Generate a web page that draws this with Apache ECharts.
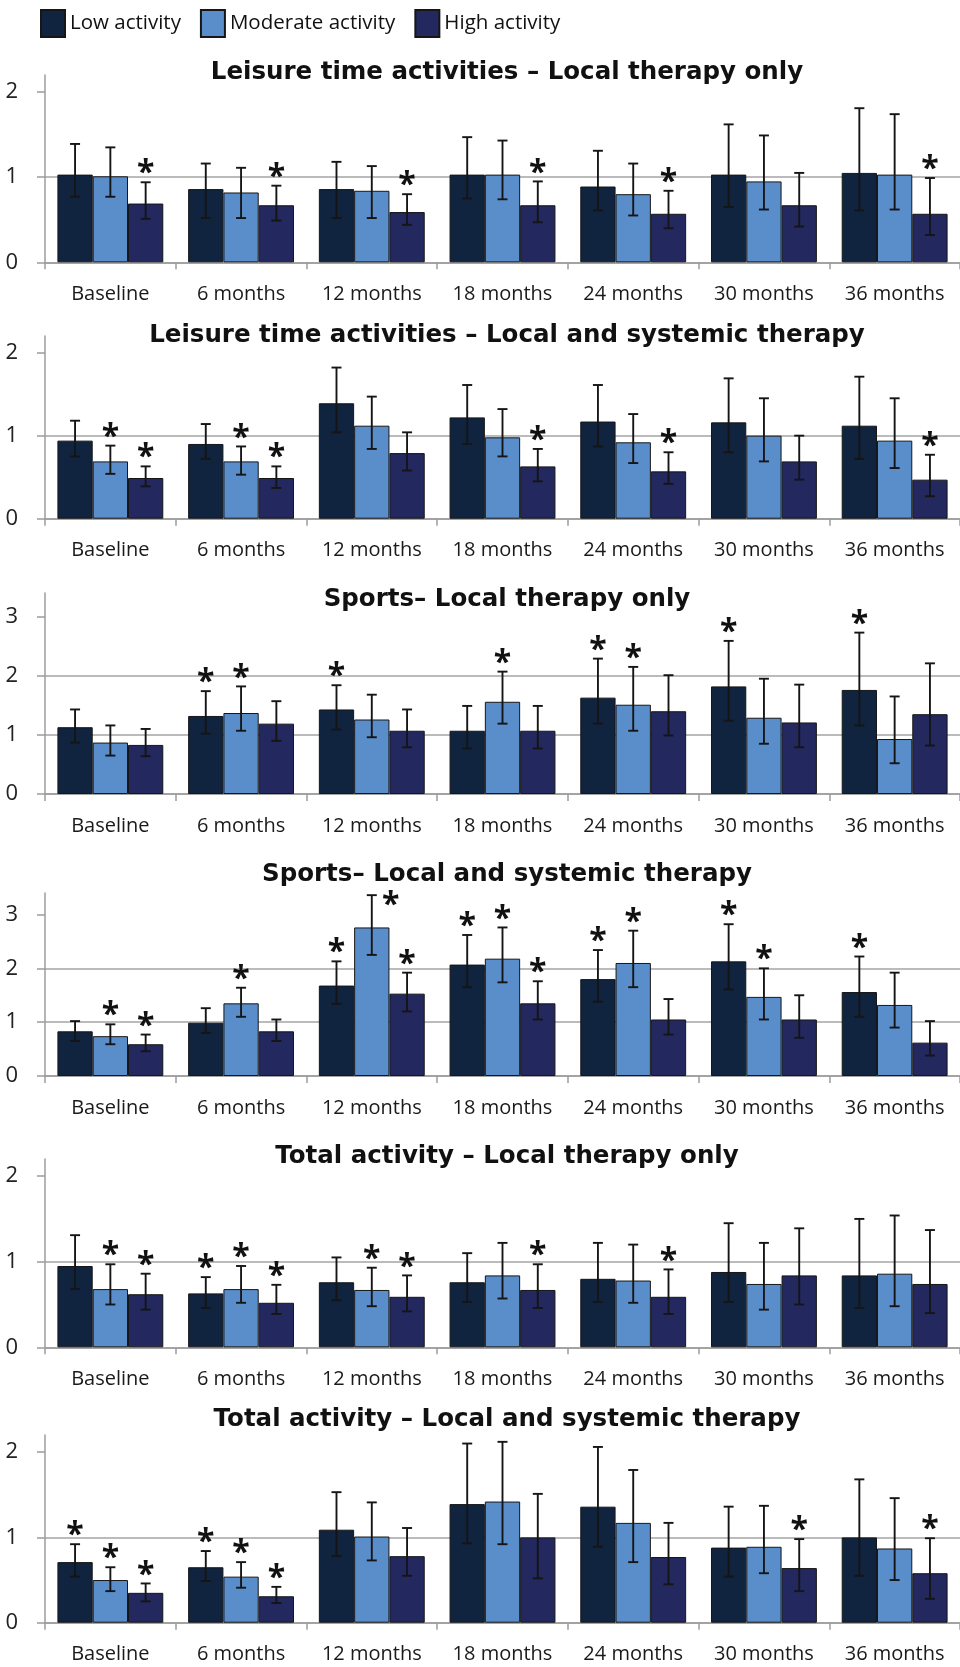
<!DOCTYPE html>
<html>
<head>
<meta charset="utf-8">
<title>Physical activity by therapy group</title>
<script src="https://cdn.jsdelivr.net/npm/echarts@6/dist/echarts.min.js"></script>
<style>
  html, body { margin: 0; padding: 0; background: #ffffff; }
  #chart { width: 960px; height: 1667px; }
</style>
</head>
<body>
<div id="chart"></div>
<script>
// ---- Shared labels ----
const categories = ['Baseline', '6 months', '12 months', '18 months', '24 months', '30 months', '36 months'];
const groupNames = ['Low activity', 'Moderate activity', 'High activity'];
const panelTitles = [
  'Leisure time activities \u2013 Local therapy only',
  'Leisure time activities \u2013 Local and systemic therapy',
  'Sports\u2013 Local therapy only',
  'Sports\u2013 Local and systemic therapy',
  'Total activity \u2013 Local therapy only',
  'Total activity \u2013 Local and systemic therapy'
];
const yTicksTwo = [0, 1, 2];
const yTicksThree = [0, 1, 2, 3];

// ---- Leisure time activities, local therapy only ----
// rows: low, moderate, high activity; columns follow `categories`
const leisureLocalMean  = [[1.03, 0.86, 0.86, 1.03, 0.89, 1.03, 1.05], [1.01, 0.82, 0.84, 1.03, 0.80, 0.95, 1.03], [0.69, 0.67, 0.59, 0.67, 0.57, 0.67, 0.57]];
const leisureLocalLower = [[0.77, 0.52, 0.52, 0.75, 0.61, 0.65, 0.61], [0.77, 0.52, 0.52, 0.74, 0.55, 0.62, 0.62], [0.51, 0.49, 0.44, 0.47, 0.40, 0.42, 0.32]];
const leisureLocalUpper = [[1.39, 1.16, 1.18, 1.47, 1.31, 1.62, 1.81], [1.35, 1.11, 1.13, 1.43, 1.16, 1.49, 1.74], [0.94, 0.90, 0.80, 0.95, 0.84, 1.05, 0.99]];
const leisureLocalSig   = [[0, 0, 0, 0, 0, 0, 0], [0, 0, 0, 0, 0, 0, 0], [1, 1, 1, 1, 1, 0, 1]];

// ---- Leisure time activities, local and systemic therapy ----
const leisureSystMean  = [[0.94, 0.90, 1.39, 1.22, 1.17, 1.16, 1.12], [0.69, 0.69, 1.12, 0.98, 0.92, 1.00, 0.94], [0.49, 0.49, 0.79, 0.63, 0.57, 0.69, 0.47]];
const leisureSystLower = [[0.75, 0.72, 1.04, 0.90, 0.87, 0.80, 0.72], [0.54, 0.53, 0.84, 0.75, 0.67, 0.69, 0.61], [0.39, 0.37, 0.58, 0.45, 0.42, 0.47, 0.27]];
const leisureSystUpper = [[1.18, 1.14, 1.82, 1.61, 1.61, 1.69, 1.71], [0.88, 0.87, 1.47, 1.32, 1.26, 1.45, 1.45], [0.63, 0.63, 1.04, 0.84, 0.80, 1.00, 0.77]];
const leisureSystSig   = [[0, 0, 0, 0, 0, 0, 0], [1, 1, 0, 0, 0, 0, 0], [1, 1, 0, 1, 1, 0, 1]];

// ---- Sports, local therapy only ----
const sportsLocalMean  = [[1.13, 1.32, 1.43, 1.07, 1.63, 1.82, 1.76], [0.87, 1.37, 1.26, 1.56, 1.51, 1.29, 0.93], [0.83, 1.19, 1.07, 1.07, 1.40, 1.21, 1.35]];
const sportsLocalLower = [[0.87, 1.02, 1.09, 0.77, 1.19, 1.24, 1.16], [0.65, 1.07, 0.96, 1.19, 1.07, 0.85, 0.52], [0.64, 0.90, 0.79, 0.77, 0.99, 0.79, 0.82]];
const sportsLocalUpper = [[1.43, 1.74, 1.84, 1.49, 2.29, 2.59, 2.73], [1.16, 1.82, 1.68, 2.07, 2.15, 1.95, 1.65], [1.10, 1.57, 1.43, 1.49, 2.01, 1.85, 2.21]];
const sportsLocalSig   = [[0, 1, 1, 0, 1, 1, 1], [0, 1, 0, 1, 1, 0, 0], [0, 0, 0, 0, 0, 0, 0]];

// ---- Sports, local and systemic therapy ----
const sportsSystMean  = [[0.83, 0.99, 1.68, 2.07, 1.80, 2.13, 1.56], [0.74, 1.35, 2.76, 2.18, 2.10, 1.47, 1.32], [0.59, 0.83, 1.53, 1.35, 1.05, 1.05, 0.62]];
const sportsSystLower = [[0.65, 0.80, 1.34, 1.65, 1.38, 1.61, 1.10], [0.59, 1.10, 2.25, 1.74, 1.65, 1.05, 0.90], [0.46, 0.65, 1.20, 1.05, 0.77, 0.71, 0.38]];
const sportsSystUpper = [[1.02, 1.26, 2.13, 2.62, 2.34, 2.82, 2.22], [0.96, 1.64, 3.36, 2.76, 2.70, 2.00, 1.92], [0.77, 1.05, 1.92, 1.76, 1.43, 1.50, 1.02]];
const sportsSystSig   = [[0, 0, 1, 1, 1, 1, 1], [1, 1, 1, 1, 1, 1, 0], [1, 0, 1, 1, 0, 0, 0]];

// ---- Total activity, local therapy only ----
const totalLocalMean  = [[0.95, 0.63, 0.76, 0.76, 0.80, 0.88, 0.84], [0.68, 0.68, 0.67, 0.84, 0.78, 0.74, 0.86], [0.62, 0.52, 0.59, 0.67, 0.59, 0.84, 0.74]];
const totalLocalLower = [[0.68, 0.46, 0.55, 0.53, 0.53, 0.53, 0.46], [0.50, 0.52, 0.48, 0.57, 0.52, 0.44, 0.48], [0.44, 0.39, 0.42, 0.46, 0.39, 0.50, 0.40]];
const totalLocalUpper = [[1.31, 0.82, 1.05, 1.10, 1.22, 1.45, 1.50], [0.97, 0.95, 0.93, 1.22, 1.20, 1.22, 1.54], [0.86, 0.73, 0.84, 0.97, 0.91, 1.39, 1.37]];
const totalLocalSig   = [[0, 1, 0, 0, 0, 0, 0], [1, 1, 1, 0, 0, 0, 0], [1, 1, 1, 1, 1, 0, 0]];

// ---- Total activity, local and systemic therapy ----
const totalSystMean  = [[0.71, 0.65, 1.09, 1.39, 1.36, 0.88, 1.00], [0.50, 0.54, 1.01, 1.42, 1.17, 0.89, 0.87], [0.35, 0.31, 0.78, 1.00, 0.77, 0.64, 0.58]];
const totalSystLower = [[0.54, 0.49, 0.78, 0.93, 0.89, 0.54, 0.55], [0.37, 0.41, 0.73, 0.92, 0.71, 0.58, 0.50], [0.25, 0.23, 0.55, 0.52, 0.45, 0.37, 0.28]];
const totalSystUpper = [[0.92, 0.84, 1.53, 2.10, 2.06, 1.36, 1.68], [0.65, 0.71, 1.41, 2.12, 1.79, 1.37, 1.46], [0.46, 0.42, 1.11, 1.51, 1.17, 0.98, 0.99]];
const totalSystSig   = [[1, 1, 0, 0, 0, 0, 0], [1, 1, 0, 0, 0, 0, 0], [1, 1, 0, 0, 0, 1, 1]];

// ---- Assemble panels ----
const panels = [
  { mean: leisureLocalMean, lower: leisureLocalLower, upper: leisureLocalUpper, sig: leisureLocalSig, ticks: yTicksTwo },
  { mean: leisureSystMean,  lower: leisureSystLower,  upper: leisureSystUpper,  sig: leisureSystSig,  ticks: yTicksTwo },
  { mean: sportsLocalMean,  lower: sportsLocalLower,  upper: sportsLocalUpper,  sig: sportsLocalSig,  ticks: yTicksThree },
  { mean: sportsSystMean,   lower: sportsSystLower,   upper: sportsSystUpper,   sig: sportsSystSig,   ticks: yTicksThree },
  { mean: totalLocalMean,   lower: totalLocalLower,   upper: totalLocalUpper,   sig: totalLocalSig,   ticks: yTicksTwo },
  { mean: totalSystMean,    lower: totalSystLower,    upper: totalSystUpper,    sig: totalSystSig,    ticks: yTicksTwo }
];

// Page layout of each panel (pixels): plot top, zero line, axis ceiling, title centre line
const panelLayout = [
  { top: 75,   zero: 262.3,  ceil: 2.2, titleY: 73 },
  { top: 336,  zero: 518.7,  ceil: 2.2, titleY: 336 },
  { top: 593,  zero: 794,    ceil: 3.4, titleY: 600 },
  { top: 893,  zero: 1076,   ceil: 3.4, titleY: 875 },
  { top: 1159, zero: 1347.3, ceil: 2.2, titleY: 1157 },
  { top: 1435, zero: 1622.7, ceil: 2.2, titleY: 1420 }
];

const PLOT_LEFT = 45;
const PLOT_WIDTH = 920;
const CAT_GAP = 0.19;
const colors = ['#10233f', '#5a8ecb', '#23285f'];
const axisGray = '#9c9c9c';
const gridGray = '#a4a4a4';
const FONT = '"Open Sans", "Noto Sans", sans-serif';
const TITLE_FONT = '"DejaVu Sans", "Open Sans", sans-serif';

// Error bar + significance marker for one bar
function renderErrorBar(params, api) {
  const cat = api.value(0);
  const lo = api.value(1);
  const hi = api.value(2);
  const grp = api.value(3);
  const sig = api.value(4);
  const catW = api.size([1, 0])[0];
  const barW = catW * (1 - CAT_GAP) / 3;
  const cx = api.coord([cat, 0])[0] + (grp - 1) * barW;
  const yHi = api.coord([cat, hi])[1];
  const yLo = api.coord([cat, lo])[1];
  const cap = 5;
  const stroke = { stroke: '#151515', lineWidth: 1.9 };
  const children = [
    { type: 'line', shape: { x1: cx, y1: yHi, x2: cx, y2: yLo }, style: stroke },
    { type: 'line', shape: { x1: cx - cap, y1: yHi, x2: cx + cap, y2: yHi }, style: stroke },
    { type: 'line', shape: { x1: cx - cap, y1: yLo, x2: cx + cap, y2: yLo }, style: stroke }
  ];
  if (sig) {
    let sx = cx;
    let sy = yHi - 16;
    if (sy - 8 < params.coordSys.y) {
      // no room above the whisker: set the marker beside it
      sx = cx + 19;
      sy = yHi + 3;
    }
    children.push({
      type: 'text',
      style: {
        text: '*', x: sx, y: sy + 8,
        font: 'bold 32px ' + FONT,
        fill: '#111111', align: 'center', verticalAlign: 'middle'
      }
    });
  }
  return { type: 'group', children: children };
}

const grids = [];
const xAxes = [];
const yAxes = [];
const titles = [];
const series = [];

panels.forEach(function (p, i) {
  const L = panelLayout[i];
  grids.push({ left: PLOT_LEFT, width: PLOT_WIDTH, top: L.top, height: L.zero - L.top });
  titles.push({
    text: panelTitles[i],
    left: 507, top: L.titleY, padding: 0,
    textAlign: 'center', textVerticalAlign: 'middle',
    textStyle: { fontFamily: TITLE_FONT, fontWeight: 'bold', fontSize: 24.5, color: '#111111' }
  });
  xAxes.push({
    gridIndex: i, type: 'category', data: categories,
    axisLine: { show: true, lineStyle: { color: axisGray, width: 1.5 } },
    axisTick: { show: true, length: 7, interval: 0, alignWithLabel: false, lineStyle: { color: axisGray, width: 1.5 } },
    axisLabel: { interval: 0, margin: 22, fontFamily: FONT, fontSize: 20, color: '#1a1a1a' },
    splitLine: { show: false }
  });
  yAxes.push({
    gridIndex: i, type: 'value', min: 0, max: L.ceil, interval: 1,
    axisLine: { show: true, lineStyle: { color: axisGray, width: 1.5 } },
    axisTick: { show: true, length: 8, customValues: p.ticks, lineStyle: { color: axisGray, width: 1.5 } },
    axisLabel: {
      customValues: p.ticks, margin: 27, fontFamily: FONT, fontSize: 22, color: '#222222',
      formatter: function (v) { return Number.isInteger(v) ? String(v) : ''; }
    },
    splitLine: {
      show: true, showMaxLine: false,
      lineStyle: { color: p.ticks.map(function () { return gridGray; }).concat(['rgba(0,0,0,0)']), width: 1.5 }
    }
  });
  groupNames.forEach(function (name, k) {
    series.push({
      type: 'bar', name: name, xAxisIndex: i, yAxisIndex: i,
      data: p.mean[k],
      barGap: '0%', barCategoryGap: (CAT_GAP * 100) + '%',
      itemStyle: { color: colors[k], borderColor: '#161616', borderWidth: 1 },
      emphasis: { disabled: true }
    });
  });
  const errData = [];
  groupNames.forEach(function (name, k) {
    categories.forEach(function (c, j) {
      errData.push([j, p.lower[k][j], p.upper[k][j], k, p.sig[k][j]]);
    });
  });
  series.push({
    type: 'custom', name: 'whiskers-' + i, xAxisIndex: i, yAxisIndex: i,
    renderItem: renderErrorBar, data: errData, z: 5, silent: true
  });
});

const chart = echarts.init(document.getElementById('chart'), null, { renderer: 'canvas' });
chart.setOption({
  animation: false,
  backgroundColor: '#ffffff',
  title: titles,
  legend: {
    data: groupNames, left: 40, top: 9, padding: 0,
    icon: 'rect', itemWidth: 24, itemHeight: 27, itemGap: 19,
    textStyle: { fontFamily: FONT, fontSize: 20.5, color: '#111111' },
    selectedMode: false
  },
  grid: grids,
  xAxis: xAxes,
  yAxis: yAxes,
  series: series
});
</script>
</body>
</html>
